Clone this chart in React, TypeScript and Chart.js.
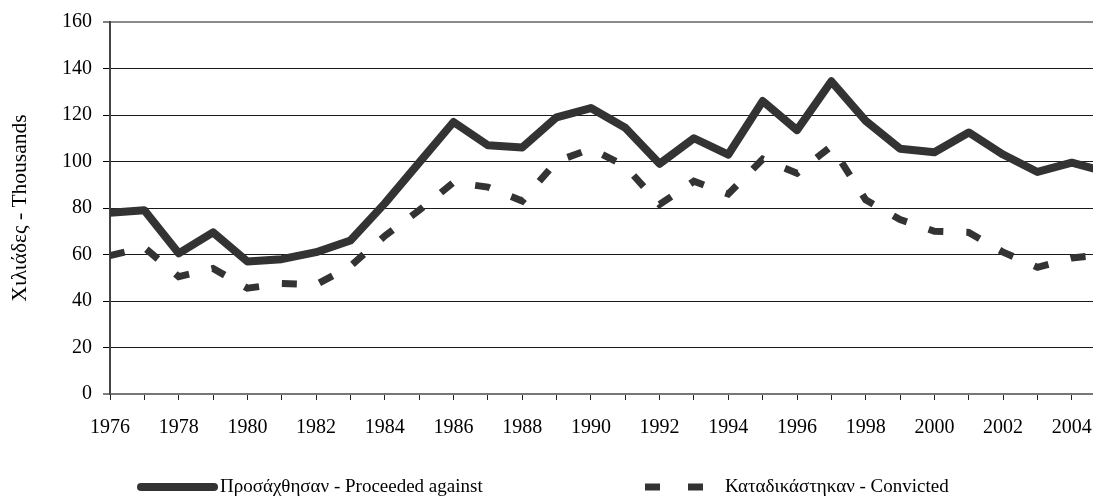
import React, { useEffect, useRef } from 'react';
import { Chart, registerables } from 'chart.js';

Chart.register(...registerables);

const years = [
  1976, 1977, 1978, 1979, 1980, 1981, 1982, 1983, 1984, 1985,
  1986, 1987, 1988, 1989, 1990, 1991, 1992, 1993, 1994, 1995,
  1996, 1997, 1998, 1999, 2000, 2001, 2002, 2003, 2004, 2005,
];
const proceeded = [
  78, 79, 60.5, 69.5, 57, 58, 61, 66, 82, 99.5,
  117, 107, 106, 119, 123, 114.5, 99, 110, 103, 126,
  113.5, 134.5, 117.5, 105.5, 104, 112.5, 103, 95.5, 99.5, 95.5,
];
const convicted = [
  59.5, 63, 50.5, 54, 45.5, 47.5, 47, 55, 68, 79,
  91, 89, 83, 100, 105.5, 98, 81.5, 91.5, 86, 101,
  95, 106.5, 83.5, 75, 70, 69.5, 61, 54.5, 58.5, 60,
];
const yTickValues = [0, 20, 40, 60, 80, 100, 120, 140, 160];
const seriesLabels = ['Προσάχθησαν - Proceeded against', 'Καταδικάστηκαν - Convicted'];
const yTitle = 'Χιλιάδες - Thousands';

const FONT = '"Liberation Serif", "Times New Roman", serif';
const LINE = '#333333';

const legendPlugin = {
  id: 'customLegend',
  afterDraw(chart: any) {
    const ctx = chart.ctx;
    const y = 487;
    ctx.save();
    ctx.strokeStyle = LINE;
    ctx.lineWidth = 8;
    ctx.lineCap = 'round';
    ctx.beginPath();
    ctx.moveTo(141, y);
    ctx.lineTo(214, y);
    ctx.stroke();
    ctx.font = `19px ${FONT}`;
    ctx.fillStyle = '#000';
    ctx.textBaseline = 'middle';
    ctx.textAlign = 'left';
    ctx.fillText(seriesLabels[0], 220, y);
    ctx.lineCap = 'butt';
    ctx.lineWidth = 7;
    ctx.setLineDash([15, 28]);
    ctx.beginPath();
    ctx.moveTo(645, y);
    ctx.lineTo(703, y);
    ctx.stroke();
    ctx.setLineDash([]);
    ctx.fillText(seriesLabels[1], 725, y);
    ctx.restore();
  },
};

export default function App() {
  const ref = useRef<HTMLCanvasElement | null>(null);

  useEffect(() => {
    if (!ref.current) return;
    const chart = new Chart(ref.current, {
      type: 'line',
      data: {
        datasets: [
          {
            label: seriesLabels[0],
            data: years.map((x, i) => ({ x, y: proceeded[i] })),
            borderColor: LINE,
            backgroundColor: LINE,
            borderWidth: 8,
            pointRadius: 0,
            borderJoinStyle: 'round',
            borderCapStyle: 'round',
            tension: 0,
            clip: 0,
          },
          {
            label: seriesLabels[1],
            data: years.map((x, i) => ({ x, y: convicted[i] })),
            borderColor: LINE,
            backgroundColor: LINE,
            borderWidth: 7,
            borderDash: [15, 23],
            pointRadius: 0,
            borderJoinStyle: 'miter',
            borderCapStyle: 'butt',
            tension: 0,
            clip: 0,
          },
        ],
      },
      options: {
        responsive: false,
        animation: false,
        layout: { padding: { top: 22, left: 0, right: 0, bottom: 0 } },
        plugins: { legend: { display: false }, tooltip: { enabled: false } },
        scales: {
          x: {
            type: 'linear',
            min: 1976,
            max: 2004.617,
            afterFit: (s: any) => {
              s.height = 107;
              s.paddingLeft = 0;
              s.paddingRight = 0;
            },
            ticks: {
              stepSize: 1,
              includeBounds: false,
              autoSkip: false,
              maxRotation: 0,
              minRotation: 0,
              padding: 16,
              color: '#000',
              font: { family: FONT, size: 20 },
              callback: (v: any) => (Number(v) % 2 === 0 ? String(v) : ''),
            },
            grid: {
              drawOnChartArea: false,
              drawTicks: true,
              tickLength: 6,
              tickColor: '#222',
              tickWidth: 1,
            },
            border: { color: '#777', width: 2 },
          },
          y: {
            min: 0,
            max: 160,
            afterFit: (s: any) => {
              s.width = 110;
              s.paddingTop = 0;
              s.paddingBottom = 0;
            },
            afterBuildTicks: (s: any) => { s.ticks = yTickValues.map((value) => ({ value })); },
            ticks: {
              padding: 11,
              color: '#000',
              font: { family: FONT, size: 20 },
            },
            grid: {
              color: (c: any) => (c.tick && (c.tick.value === 160 || c.tick.value === 0) ? '#8a8a8a' : '#1a1a1a'),
              lineWidth: (c: any) => (c.tick && (c.tick.value === 160 || c.tick.value === 0) ? 2 : 1),
              tickColor: '#000',
              tickWidth: 1,
              tickLength: 7,
            },
            border: { color: '#444', width: 2 },
            title: {
              display: true,
              text: yTitle,
              color: '#000',
              font: { family: FONT, size: 21.5 },
              padding: { top: 7, bottom: 0 },
            },
          },
        },
      },
      plugins: [legendPlugin],
    });
    return () => chart.destroy();
  }, []);

  return (
    <div style={{ position: 'fixed', left: 0, top: 0, width: 1093, height: 501, overflow: 'hidden', background: '#fff' }}>
      <canvas ref={ref} width={1093} height={501} style={{ width: 1093, height: 501, display: 'block' }} />
    </div>
  );
}
